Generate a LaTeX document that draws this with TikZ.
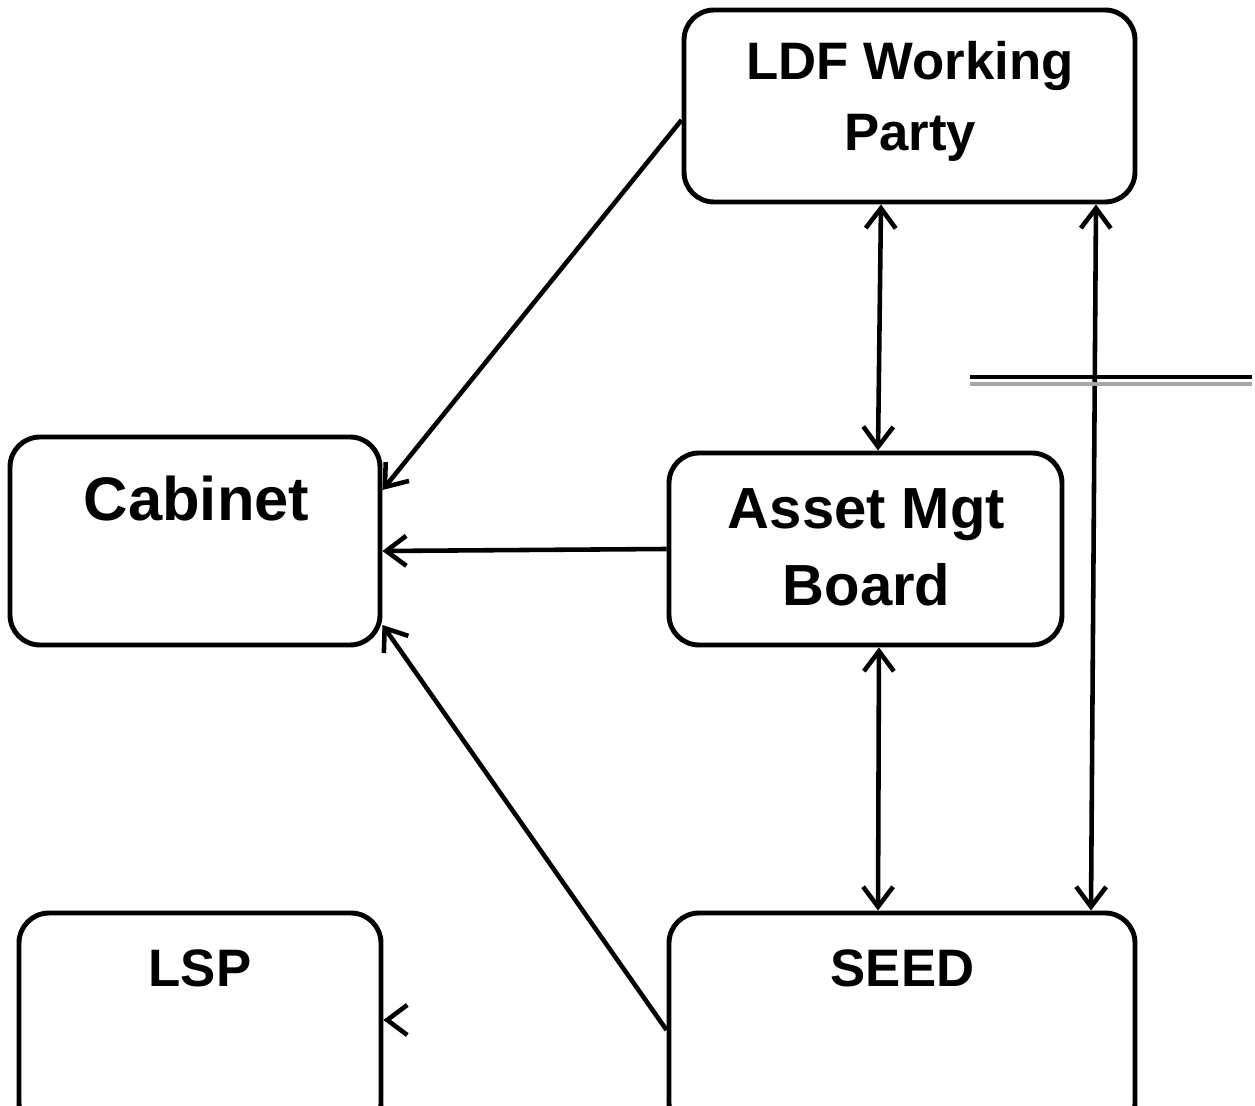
\documentclass[tikz,border=0pt]{standalone}
\usepackage{fontspec}
\setmainfont{Liberation Sans}
\usetikzlibrary{positioning, arrows.meta}

\tikzset{
  box/.style={draw, line width=2.8pt, rounded corners=0.6cm, inner sep=0pt},
  lbl/.style={anchor=base, font=\bfseries\fontsize{30}{36}\selectfont},
  arr/.style={line width=2.6pt, -{Straight Barb[length=0.4cm, width=0.6cm, line width=2.6pt]}},
  arrb/.style={line width=2.6pt, {Straight Barb[length=0.4cm, width=0.6cm, line width=2.6pt]}-{Straight Barb[length=0.4cm, width=0.6cm, line width=2.6pt]}}
}

\begin{document}
\begin{tikzpicture}
  \useasboundingbox (0,0) rectangle (25.1,-22.12);

  % --- Boxes ---
  \node[box, minimum width=9.02cm, minimum height=3.84cm] (ldf) at (18.19,-2.12) {};
  \node[box, minimum width=7.4cm, minimum height=4.16cm]  (cab) at (3.9,-10.82) {};
  \node[box, minimum width=7.86cm, minimum height=3.84cm] (amb) at (17.31,-10.98) {};
  \node[box, minimum width=7.24cm, minimum height=4.4cm]  (lsp) at (4.0,-20.46) {};
  \node[box, minimum width=9.32cm, minimum height=4.4cm]  (seed) at (18.04,-20.46) {};

  % --- Text Labels ---
  \node[lbl] (ldf1) at (18.2,-1.6)   {LDF Working};
  \node[lbl] (ldf2) at (18.2,-3.02)  {Party};
  \node[lbl, font=\bfseries\fontsize{35}{42}\selectfont] (cab1) at (3.93,-10.42) {Cabinet};
  \node[lbl, font=\bfseries\fontsize{33}{40}\selectfont] (amb1) at (17.33,-10.58) {Asset Mgt};
  \node[lbl, font=\bfseries\fontsize{33}{40}\selectfont] (amb2) at (17.33,-12.12) {Board};
  \node[lbl] (lsp1) at (4.0,-19.72)  {LSP};
  \node[lbl] (seed1) at (18.05,-19.72) {SEED};

  % --- Connectors to Cabinet ---
  \draw[arr] ([yshift=-0.28cm]ldf.west) -- ([yshift=1.02cm]cab.east);
  \draw[arr] (amb.west) -- ([yshift=-0.2cm]cab.east);
  \draw[arr] ([yshift=-0.2cm]seed.west |- 0,-20.4) -- ([yshift=-1.68cm]cab.east);

  % --- Two-way links ---
  \draw[arrb] ([xshift=-0.57cm]ldf.south) -- ([xshift=0.25cm]amb.north);
  \draw[arrb] ([xshift=0.27cm]amb.south) -- ([xshift=-0.48cm]seed.north);
  \draw[arrb] ([xshift=3.73cm]ldf.south) -- ([xshift=3.78cm]seed.north);

  % --- Stray tip at LSP ---
  \coordinate (lspend) at (7.72,-20.4);
  \draw[arr] (lspend) -- (lsp.east |- lspend);

  % --- Double rule on the right ---
  \coordinate (ruleA) at (19.4,-7.54);
  \coordinate (ruleB) at (25.04,-7.54);
  \draw[line width=2.6pt] (ruleA) -- (ruleB);
  \draw[line width=2.2pt, gray!70] ([yshift=-0.14cm]ruleA) -- ([yshift=-0.14cm]ruleB);
\end{tikzpicture}
\end{document}
